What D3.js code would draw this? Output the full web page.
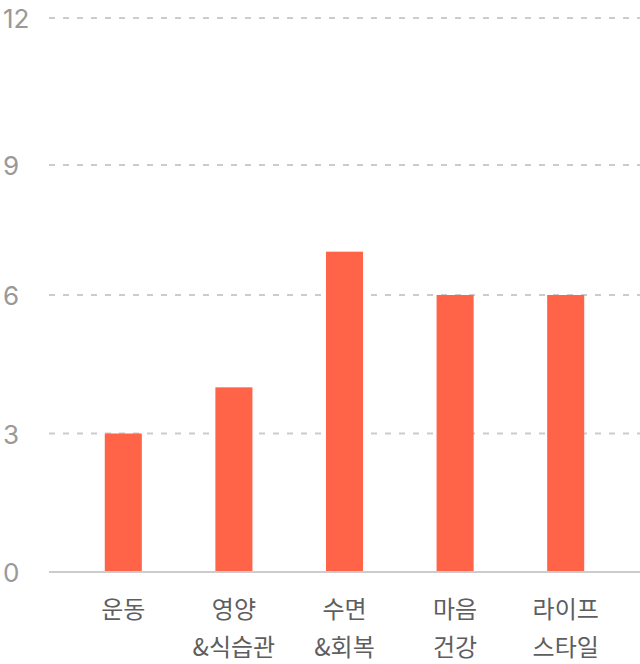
<!DOCTYPE html>
<html><head><meta charset="utf-8">
<script src="https://cdn.jsdelivr.net/npm/d3@7"></script>
<style>html,body{margin:0;padding:0;background:#fff;}svg{display:block;}</style>
</head><body>
<svg id="chart" width="640" height="664"></svg>
<script>
const categories = [["운동"], ["영양", "&식습관"], ["수면", "&회복"], ["마음", "건강"], ["라이프", "스타일"]];
const values = [3, 4, 7, 6, 6];
const yTicks = [0, 3, 6, 9, 12];

const svg = d3.select("#chart");
const font = "'Noto Sans CJK KR', 'Noto Sans', sans-serif";
const numFont = "Inter, Roboto, sans-serif";

const x = d3.scaleBand().domain(d3.range(categories.length)).range([68, 621]).paddingInner(0.665).paddingOuter(0.3325);
const y = d3.scaleLinear().domain(yTicks).range([572, 433.5, 295, 165, 18]);

// gridlines
svg.append("g").selectAll("line").data(yTicks.filter(d => d > 0)).join("line")
  .attr("x1", 49).attr("x2", 640)
  .attr("y1", d => y(d)).attr("y2", d => y(d))
  .attr("stroke", "#cccccc").attr("stroke-width", 1.8).attr("stroke-dasharray", "6,8");

// bars
svg.append("g").selectAll("rect").data(values).join("rect")
  .attr("x", (d, i) => x(i)).attr("width", x.bandwidth())
  .attr("y", d => y(d)).attr("height", d => y(0) - y(d))
  .attr("fill", "#FF6449");

// baseline
svg.append("line").attr("x1", 49).attr("x2", 640).attr("y1", y(0)).attr("y2", y(0))
  .attr("stroke", "#cccccc").attr("stroke-width", 2);

// y labels
svg.append("g").selectAll("text").data(yTicks).join("text")
  .attr("x", 3).attr("y", d => y(d) + 10)
  .attr("font-family", numFont).attr("font-size", 26).attr("fill", "#999999")
  .text(d => d);

// x labels
const xl = svg.append("g").selectAll("text").data(categories).join("text")
  .attr("x", (d, i) => x(i) + x.bandwidth() / 2)
  .attr("text-anchor", "middle")
  .attr("font-family", font).attr("font-size", 24).attr("fill", "#5e5e5e");
xl.selectAll("tspan").data(d => d).join("tspan")
  .attr("x", function() { return d3.select(this.parentNode).attr("x"); })
  .attr("y", (d, j) => 618 + j * 38)
  .text(d => d);
</script>
</body></html>
